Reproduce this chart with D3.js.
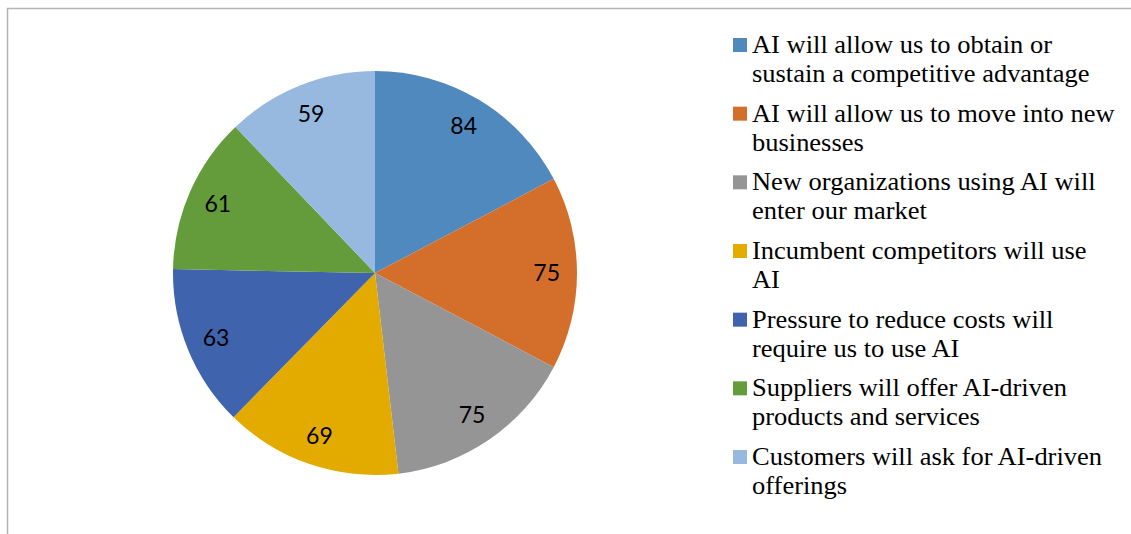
<!DOCTYPE html>
<html>
<head>
<meta charset="utf-8">
<script src="https://cdn.jsdelivr.net/npm/d3@7"></script>
<style>
  body { margin: 0; background: #fff; }
</style>
</head>
<body>
<div id="container"></div>
<script>
const width = 1131;
const height = 534;

const categories = [
    'AI will allow us to obtain or|sustain a competitive advantage',
    'AI will allow us to move into new|businesses',
    'New organizations using AI will|enter our market',
    'Incumbent competitors will use|AI',
    'Pressure to reduce costs will|require us to use AI',
    'Suppliers will offer AI-driven|products and services',
    'Customers will ask for AI-driven|offerings'
];
const values = [84, 75, 75, 69, 63, 61, 59];
const colors = ['#4f89bd', '#d46f2b', '#959595', '#e3ab00', '#3f63ad', '#649b3b', '#97b9e0'];

const cx = 375;
const cy = 273;
const radius = 202;

let svg = d3.select('#container').append('svg')
    .attr('width', width)
    .attr('height', height)
    .attr('viewBox', `0 0 ${width} ${height}`);

// chart frame (right and bottom edges run off the picture)
svg.append('rect')
    .attr('x', 7.5)
    .attr('y', 8.5)
    .attr('width', width + 20)
    .attr('height', height + 20)
    .attr('fill', 'none')
    .attr('stroke', '#b4b4b4')
    .attr('stroke-width', 1.5);

let data = values.map((v, i) => ({ name: categories[i], value: v, color: colors[i] }));

let pie = d3.pie().sort(null).value(d => d.value);
let arc = d3.arc().innerRadius(0).outerRadius(radius);
let labelArc = d3.arc().innerRadius(radius * 0.85).outerRadius(radius * 0.85);

let g = svg.append('g').attr('transform', 'translate(' + cx + ',' + cy + ')');

let arcs = pie(data);

g.selectAll('path')
    .data(arcs)
    .join('path')
    .attr('d', arc)
    .attr('fill', d => d.data.color);

g.selectAll('text')
    .data(arcs)
    .join('text')
    .attr('transform', d => 'translate(' + labelArc.centroid(d) + ')')
    .attr('text-anchor', 'middle')
    .attr('dy', '0.35em')
    .attr('font-family', 'Lato, "Open Sans", sans-serif')
    .attr('font-size', 23)
    .attr('fill', '#000')
    .text(d => d.data.value);

// legend
let legendY = d3.scalePoint()
    .domain(d3.range(categories.length))
    .range([45, 457]);

let legend = svg.append('g')
    .selectAll('g')
    .data(data)
    .join('g')
    .attr('transform', (d, i) => 'translate(733,' + legendY(i) + ')');

legend.append('rect')
    .attr('x', 0)
    .attr('y', -7)
    .attr('width', 14)
    .attr('height', 14)
    .attr('fill', d => d.color);

// the reference legend type is a little wider than Times, so stretch it
legend.append('text')
    .attr('transform', 'translate(19,0) scale(1.09,1)')
    .attr('y', 8)
    .attr('font-family', '"Liberation Serif", "Times New Roman", serif')
    .attr('font-size', 24.3)
    .attr('fill', '#000')
    .selectAll('tspan')
    .data(d => d.name.split('|'))
    .join('tspan')
    .attr('x', 0)
    .attr('dy', (d, i) => i === 0 ? 0 : 29)
    .text(d => d);
</script>
</body>
</html>
